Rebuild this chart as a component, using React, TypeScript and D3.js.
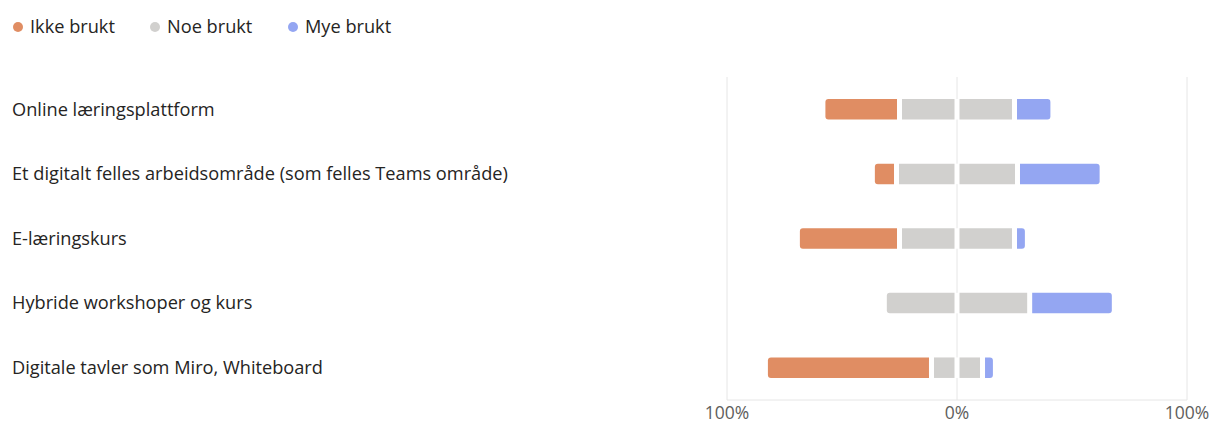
import * as d3 from 'd3';

const WIDTH = 1212;
const HEIGHT = 424;

const categories = [
  'Online læringsplattform',
  'Et digitalt felles arbeidsområde (som felles Teams område)',
  'E-læringskurs',
  'Hybride workshoper og kurs',
  'Digitale tavler som Miro, Whiteboard',
];

const seriesNames = ['Ikke brukt', 'Noe brukt', 'Mye brukt'];

// percent of answers per category
const ikkeBrukt = [33.3, 10.5, 44.4, 0, 72.2];
const noeBrukt = [50, 52.6, 50, 63.2, 22.2];
const myeBrukt = [16.7, 36.8, 5.6, 36.8, 5.6];

const tickValues = [-100, 0, 100];
const tickLabels = ['100%', '0%', '100%'];

const color = {
  ikke: '#E08D63',
  noe: '#D1D0CE',
  mye: '#94A6F2',
  grid: '#E6E6E6',
  label: '#252423',
  tick: '#605E5C',
};
const seriesColors = [color.ikke, color.noe, color.mye];

const FONT = "'Segoe UI', 'Open Sans', sans-serif";
const LABEL_SIZE = 18.2;

const PLOT = { left: 727, right: 1187, top: 77, bottom: 400 };
const BAR_H = 20.5;
const PAD = 2.5;
const RADIUS = 3;

// rect path with rounded corners on chosen sides
function barPath(x0: number, x1: number, y0: number, h: number, roundLeft: boolean, roundRight: boolean) {
  const w = x1 - x0;
  const rl = roundLeft ? Math.min(RADIUS, w / 2) : 0;
  const rr = roundRight ? Math.min(RADIUS, w / 2) : 0;
  const p = d3.path();
  p.moveTo(x0 + rl, y0);
  p.lineTo(x1 - rr, y0);
  if (rr) p.arcTo(x1, y0, x1, y0 + rr, rr);
  p.lineTo(x1, y0 + h - rr);
  if (rr) p.arcTo(x1, y0 + h, x1 - rr, y0 + h, rr);
  p.lineTo(x0 + rl, y0 + h);
  if (rl) p.arcTo(x0, y0 + h, x0, y0 + h - rl, rl);
  p.lineTo(x0, y0 + rl);
  if (rl) p.arcTo(x0, y0, x0 + rl, y0, rl);
  p.closePath();
  return p.toString();
}

const App = () => {
  const xScale = d3.scaleLinear().domain([-100, 100]).range([PLOT.left, PLOT.right]);
  const yScale = d3.scaleBand<string>().domain(categories).range([PLOT.top, PLOT.bottom]);

  const rows = categories.map((cat, i) => {
    const half = noeBrukt[i] / 2;
    const segs = [
      { key: 'ikke', from: -half - ikkeBrukt[i], to: -half, fill: color.ikke },
      { key: 'noeL', from: -half, to: 0, fill: color.noe },
      { key: 'noeR', from: 0, to: half, fill: color.noe },
      { key: 'mye', from: half, to: half + myeBrukt[i], fill: color.mye },
    ].filter(s => s.to - s.from > 0);
    return { cat, segs };
  });

  const legendX = [18, 155, 293];

  return (
    <svg width={WIDTH} height={HEIGHT} style={{ position: 'absolute', left: 0, top: 0 }} fontFamily={FONT}>
      <rect width={WIDTH} height={HEIGHT} fill="#fff" />

      {/* legend */}
      {seriesNames.map((name, i) => (
        <g key={name} transform={`translate(${legendX[i]},27)`}>
          <circle r={5} fill={seriesColors[i]} />
          <text x={12} dy="0.35em" fontSize={LABEL_SIZE} fill={color.label}>
            {name}
          </text>
        </g>
      ))}

      {/* frame + center line */}
      <line x1={PLOT.left} x2={PLOT.left} y1={PLOT.top} y2={PLOT.bottom} stroke={color.grid} />
      <line x1={PLOT.right} x2={PLOT.right} y1={PLOT.top} y2={PLOT.bottom} stroke={color.grid} />
      <line x1={xScale(0)} x2={xScale(0)} y1={PLOT.top} y2={PLOT.bottom} stroke={color.grid} />
      <line x1={PLOT.left} x2={PLOT.right} y1={PLOT.bottom} y2={PLOT.bottom} stroke={color.grid} />

      {/* category labels */}
      {categories.map(cat => (
        <text
          key={cat}
          x={12}
          y={(yScale(cat) || 0) + yScale.bandwidth() / 2}
          dy="0.35em"
          fontSize={LABEL_SIZE}
          fill={color.label}
        >
          {cat}
        </text>
      ))}

      {/* bars */}
      {rows.map(row => {
        const yc = (yScale(row.cat) || 0) + yScale.bandwidth() / 2;
        const y0 = yc - BAR_H / 2;
        const first = row.segs[0];
        const last = row.segs[row.segs.length - 1];
        return (
          <g key={row.cat}>
            <rect
              x={xScale(first.from)}
              width={xScale(last.to) - xScale(first.from)}
              y={y0}
              height={BAR_H}
              fill="#fff"
            />
            {row.segs.map(s => {
              const x0 = xScale(s.from) + PAD;
              const x1 = xScale(s.to) - PAD;
              if (x1 - x0 <= 0) return null;
              return (
                <path
                  key={s.key}
                  d={barPath(x0, x1, y0, BAR_H, s === first, s === last)}
                  fill={s.fill}
                />
              );
            })}
          </g>
        );
      })}

      {/* x tick labels */}
      {tickValues.map((v, i) => (
        <text key={i} x={xScale(v)} y={413} dy="0.35em" textAnchor="middle" fontSize={17.5} fill={color.tick}>
          {tickLabels[i]}
        </text>
      ))}
    </svg>
  );
};

export default App;
